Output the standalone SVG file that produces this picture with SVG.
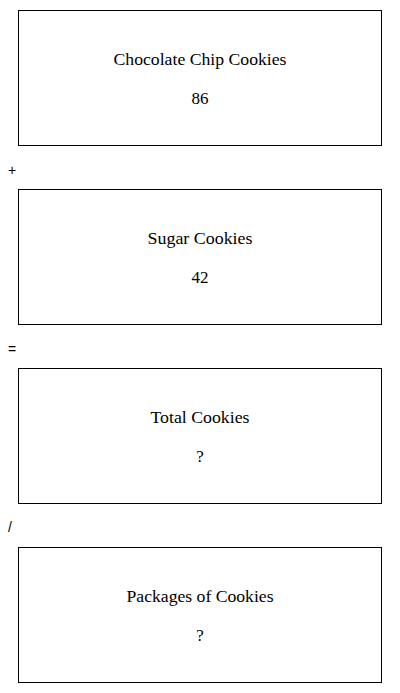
<svg xmlns="http://www.w3.org/2000/svg" width="400" height="693" viewBox="0 0 400 693">
<style>
.box{fill:#fff;stroke:#000;stroke-width:1}
.t{font-family:"Liberation Serif","Times New Roman",serif;font-size:17px;fill:#000;text-anchor:middle}
.op{font-family:"Liberation Sans",Arial,sans-serif;font-size:14px;fill:#000}
</style>
<rect width="400" height="693" fill="#fff"/>
<g id="node-chocolate">
<rect class="box" x="18.5" y="10.5" width="363" height="135"/>
<text class="t" x="200" y="65" textLength="173" lengthAdjust="spacingAndGlyphs">Chocolate Chip Cookies</text>
<text class="t" x="200" y="104">86</text>
</g>
<g id="node-sugar">
<rect class="box" x="18.5" y="189.5" width="363" height="135"/>
<text class="t" x="200" y="244" textLength="105" lengthAdjust="spacingAndGlyphs">Sugar Cookies</text>
<text class="t" x="200" y="283">42</text>
</g>
<g id="node-total">
<rect class="box" x="18.5" y="368.5" width="363" height="135"/>
<text class="t" x="200" y="423" textLength="99" lengthAdjust="spacingAndGlyphs">Total Cookies</text>
<text class="t" x="200" y="462">?</text>
</g>
<g id="node-packages">
<rect class="box" x="18.5" y="547.5" width="363" height="135"/>
<text class="t" x="200" y="602" textLength="147" lengthAdjust="spacingAndGlyphs">Packages of Cookies</text>
<text class="t" x="200" y="641">?</text>
</g>
<g id="connectors">
<text class="op" x="8" y="175">+</text>
<text class="op" x="8" y="354">=</text>
<text class="op" x="8" y="532">/</text>
</g>
</svg>
